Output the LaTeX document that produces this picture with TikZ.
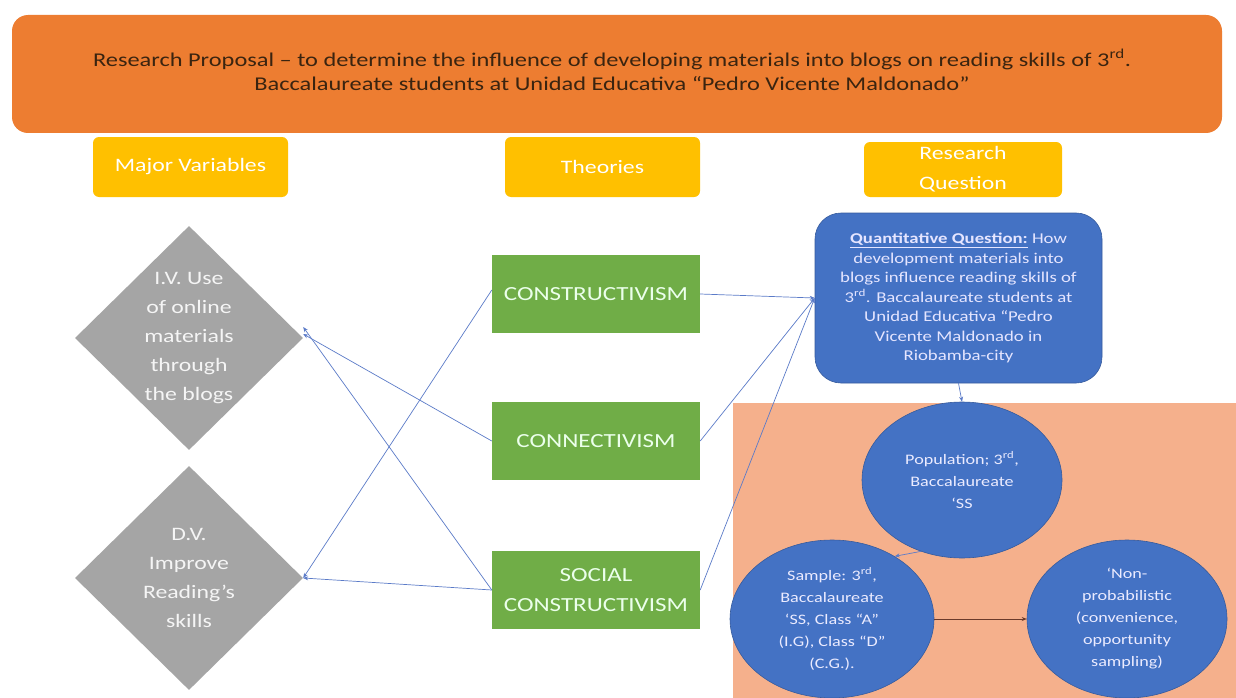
\documentclass[tikz,border=0pt]{standalone}
\usepackage{fontspec}
\setmainfont{Carlito}[FakeStretch=1.25]
\usetikzlibrary{shapes.geometric,arrows.meta}
\definecolor{ttlorange}{HTML}{ED7D31}
\definecolor{hdrgold}{HTML}{FFC000}
\definecolor{dgray}{HTML}{A5A5A5}
\definecolor{tgreen}{HTML}{70AD47}
\definecolor{qblue}{HTML}{4472C4}
\definecolor{salmon}{HTML}{F5B08C}
\definecolor{linkblue}{HTML}{5B7BC8}
\definecolor{linkdark}{HTML}{6B3A2A}
\definecolor{ttltext}{HTML}{3A2410}
\tikzset{
  hdr/.style={fill=hdrgold, rounded corners=6pt, text=white, align=center, inner sep=0pt,
    font=\fontsize{19}{30}\selectfont},
  thbox/.style={fill=tgreen, text=white!92!green, align=center, inner sep=0pt,
    minimum width=208pt, minimum height=78pt, font=\fontsize{20}{30}\selectfont},
  dia/.style={diamond, fill=dgray, inner sep=0pt, minimum width=228pt, minimum height=224pt},
  diatxt/.style={text=white!92!gray, align=center, font=\fontsize{19}{29}\selectfont},
  ell/.style={ellipse, fill=qblue, draw=qblue!80!black, line width=0.6pt, text=white!92!blue,
    align=center, inner sep=0pt, font=\fontsize{14.5}{22}\selectfont},
  conn/.style={draw=linkblue, line width=0.7pt, -{Stealth[length=5pt,width=4pt]}},
}
\begin{document}
\begin{tikzpicture}[x=1pt,y=-1pt]
\useasboundingbox[fill=white] (0,0) rectangle (1236,698);
% salmon background panel
\fill[salmon] (733,403) rectangle (1236,698);
% title
\node[fill=ttlorange, rounded corners=16pt, minimum width=1210pt, minimum height=118pt,
  inner sep=0pt] (title) at (617,74) {};
\node[text=ttltext, align=center, font=\fontsize{19.5}{24.5}\selectfont] (titletxt) at (612,70)
  {Research Proposal -- to determine the influence of developing materials into blogs on reading skills of 3\textsuperscript{rd}.\\
   Baccalaureate students at Unidad Educativa “Pedro Vicente Maldonado”};
% headers
\node[hdr, minimum width=195pt, minimum height=60pt] (hvar) at (190.5,167) {Major Variables};
\node[hdr, minimum width=195pt, minimum height=60pt] (hthe) at (602.5,167) {Theories};
\node[hdr, minimum width=198pt, minimum height=55pt] (hrq) at (963,169.5) {Research\\Question};
% diamonds
\node[dia] (iv) at (189,338) {};
\node[diatxt] (ivt) at (iv.center) {I.V. Use\\of online\\materials\\through\\the blogs};
\node[dia] (dv) at (189,578) {};
\node[diatxt] (dvt) at (dv.center) {D.V.\\Improve\\Reading’s\\skills};
% theories
\node[thbox] (c1) at (596,294) {CONSTRUCTIVISM};
\node[thbox] (c2) at (596,441) {CONNECTIVISM};
\node[thbox] (c3) at (596,590) {SOCIAL\\CONSTRUCTIVISM};
% research question
\node[fill=qblue, draw=qblue!80!black, line width=0.6pt, rounded corners=26pt, minimum width=287pt, minimum height=170pt,
  inner sep=0pt, text=white!90!blue, align=center, font=\fontsize{15}{19.5}\selectfont]
  (q) at (958.5,298)
  {\textbf{\underline{Quantitative Question:}} How\\
   development materials into\\
   blogs influence reading skills of\\
   3\textsuperscript{rd}. Baccalaureate students at\\
   Unidad Educativa “Pedro\\
   Vicente Maldonado in\\
   Riobamba-city};
% ellipses
\node[ell, minimum width=200pt, minimum height=156pt] (pop) at (962,480)
  {Population; 3\textsuperscript{rd},\\Baccalaureate\\‘SS};
\node[ell, minimum width=204pt, minimum height=158pt] (samp) at (832,619)
  {Sample: 3\textsuperscript{rd},\\Baccalaureate\\‘SS, Class “A”\\(I.G), Class “D”\\(C.G.).};
\node[ell, minimum width=200pt, minimum height=158pt] (nonp) at (1127,619)
  {‘Non-\\probabilistic\\(convenience,\\opportunity\\sampling)};
% connectors
\draw[conn] (c1.east) -- (q.west);
\draw[conn] (c2.east) -- (q.west);
\draw[conn] (c3.east) -- (q.west);
\draw[conn] (c2.west) -- ([yshift=4pt]iv.east);
\draw[conn] (c3.west) -- ([yshift=11pt]iv.east);
\draw[conn] (c3.west) -- (dv.east);
\draw[conn] ([yshift=4pt]c1.west) -- (dv.east);
\draw[conn] (q.south) -- (pop.north);
\draw[conn] (pop.240) -- (samp.45);
\draw[conn, draw=linkdark] (samp.east) -- (nonp.west);
\end{tikzpicture}
\end{document}
